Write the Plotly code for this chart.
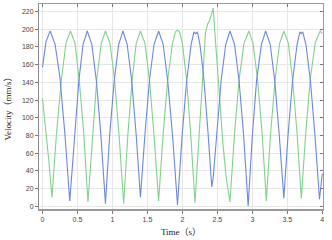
import plotly.graph_objects as go

# ---- data ----
blue_t = [0.00, 0.05, 0.11, 0.18, 0.25, 0.32, 0.39,
          0.455, 0.52, 0.58, 0.64, 0.705, 0.77, 0.835, 0.90,
          0.96, 1.025, 1.09, 1.15, 1.21, 1.275, 1.34, 1.40,
          1.465, 1.53, 1.595, 1.66, 1.725, 1.79, 1.86, 1.93,
          1.995, 2.06, 2.125, 2.165, 2.19, 2.215, 2.25, 2.30, 2.36, 2.40, 2.42, 2.44,
          2.49, 2.555, 2.62, 2.68, 2.745, 2.81, 2.875, 2.94,
          3.00, 3.06, 3.13, 3.19, 3.255, 3.32, 3.385, 3.45,
          3.51, 3.575, 3.64, 3.68, 3.70, 3.72, 3.765, 3.83, 3.895, 3.96, 4.00]
blue_v = [157, 186, 198, 183, 145, 82, 6,
          80, 142, 183, 198, 183, 142, 80, 3,
          80, 142, 183, 198, 183, 142, 80, 10,
          82, 143, 183, 198, 183, 142, 79, 1.5,
          79, 141, 183, 197, 195, 197, 183, 150, 90, 35, 22, 32,
          85, 143, 183, 198, 183, 142, 80, 0.5,
          80, 142, 183, 198, 183, 142, 80, 9,
          80, 142, 183, 197, 195, 197, 183, 142, 80, 8, 37]

green_t = [0.00, 0.045, 0.09, 0.135,
           0.20, 0.27, 0.335, 0.40, 0.465, 0.525, 0.59, 0.65,
           0.715, 0.775, 0.84, 0.90, 0.965, 1.03, 1.095, 1.16,
           1.22, 1.28, 1.34, 1.40, 1.465, 1.53, 1.595, 1.66,
           1.725, 1.79, 1.86, 1.90, 1.93, 1.96, 2.00, 2.06, 2.12, 2.18,
           2.24, 2.29, 2.33, 2.36, 2.39, 2.42, 2.44, 2.47, 2.52, 2.58, 2.63, 2.68,
           2.745, 2.81, 2.88, 2.95, 3.01, 3.075, 3.14, 3.20,
           3.26, 3.325, 3.39, 3.45, 3.515, 3.575, 3.64, 3.70,
           3.765, 3.83, 3.90, 3.97, 4.00]
green_v = [122, 88, 52, 10,
           82, 143, 184, 198, 184, 143, 82, 5,
           82, 143, 184, 198, 184, 143, 80, 3,
           80, 142, 184, 198, 184, 142, 80, 6,
           82, 143, 185, 197, 199, 197, 184, 143, 80, 4,
           82, 150, 196, 206, 210, 218, 224, 190, 130, 70, 30, 5,
           82, 143, 184, 198, 184, 143, 82, 6,
           82, 143, 184, 198, 184, 143, 82, 9,
           85, 145, 185, 198, 195]

x_ticks = [0, 0.5, 1, 1.5, 2, 2.5, 3, 3.5, 4]
x_labels = ["0", "0.5", "1", "1.5", "2", "2.5", "3", "3.5", "4"]
y_ticks = [0, 20, 40, 60, 80, 100, 120, 140, 160, 180, 200, 220]

blue_color = "#6c88dc"
green_color = "#82d18e"

fig = go.Figure()
fig.add_trace(go.Scatter(x=green_t, y=green_v, mode="lines",
                         line=dict(color=green_color, width=1.1), showlegend=False))
fig.add_trace(go.Scatter(x=blue_t, y=blue_v, mode="lines",
                         line=dict(color=blue_color, width=1.1), showlegend=False))
# dummy trace for the mirrored (inside-tick) axes
fig.add_trace(go.Scatter(x=[], y=[], xaxis="x2", yaxis="y2", showlegend=False))

xr = [-0.05, 4.01]
yr = [-3, 228.5]
tickfont = dict(family="Liberation Sans, Arial, sans-serif", size=7, color="#444")
titlefont = dict(family="Liberation Serif, Times New Roman, Noto Sans CJK SC, serif", size=9, color="#222")

fig.update_layout(
    width=332, height=240,
    margin=dict(l=39, r=9, t=4, b=31),
    paper_bgcolor="white", plot_bgcolor="white",
    xaxis=dict(range=xr, tickvals=x_ticks, ticktext=x_labels, ticks="outside",
               ticklen=3, tickcolor="#777", showline=True, linecolor="#9a9a9a",
               linewidth=2, showgrid=True, gridcolor="#e6e6e6", gridwidth=1,
               zeroline=False, tickfont=tickfont,
               title=dict(text="Time（s）", font=titlefont, standoff=6)),
    yaxis=dict(range=yr, tickvals=y_ticks, ticks="outside", ticklen=3,
               tickcolor="#777", showline=True, linecolor="#8a8a8a", linewidth=1,
               showgrid=True, gridcolor="#e6e6e6", gridwidth=1, zeroline=False,
               tickfont=tickfont,
               title=dict(text="Velocity（mm/s）", font=titlefont, standoff=8)),
    xaxis2=dict(range=xr, tickvals=x_ticks, overlaying="x", side="top", anchor="y2",
                ticks="inside", ticklen=3, tickcolor="#777", showticklabels=False,
                showline=True, linecolor="#9a9a9a", linewidth=1, showgrid=False,
                zeroline=False),
    yaxis2=dict(range=yr, tickvals=y_ticks, overlaying="y", side="right", anchor="x2",
                ticks="inside", ticklen=3, tickcolor="#777", showticklabels=False,
                showline=True, linecolor="#9a9a9a", linewidth=1, showgrid=False,
                zeroline=False),
)

fig.write_html("out.html")
